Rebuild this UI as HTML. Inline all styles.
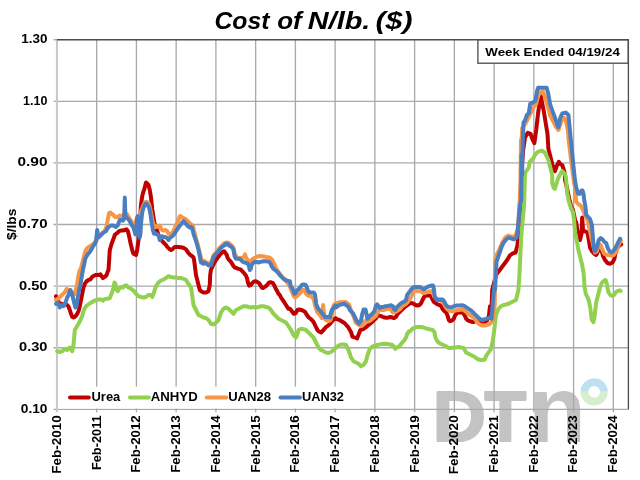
<!DOCTYPE html>
<html><head><meta charset="utf-8"><style>
html,body{margin:0;padding:0;background:#fff;}
body{width:640px;height:480px;overflow:hidden;}
svg{display:block;}
text{font-family:"Liberation Sans",Arial,sans-serif;font-weight:bold;fill:#000;}
</style></head><body>
<svg width="640" height="480" viewBox="0 0 640 480">
<rect width="640" height="480" fill="#fff"/>
<g fill="#c5c5c5" font-family="Liberation Sans, sans-serif" font-weight="bold" font-size="69" style="font-weight:bold">
<text transform="translate(432.8,441.0) scale(1.067,1.024)" style="fill:#c3c3c3;stroke:#c3c3c3;stroke-width:2.1px;stroke-linejoin:round">D</text>
<text transform="translate(484.5,441.0) scale(0.99,1.024)" style="fill:#c3c3c3;stroke:#c3c3c3;stroke-width:2.1px;stroke-linejoin:round">T</text>
<text transform="translate(527.9,442.1) scale(1.375,1.375)" style="fill:#c3c3c3">n</text>
</g>
<g stroke="#a9a9a9" stroke-width="1.33"><line x1="96.67" y1="39.73" x2="96.67" y2="412.33"/><line x1="136.42" y1="39.73" x2="136.42" y2="412.33"/><line x1="176.16" y1="39.73" x2="176.16" y2="412.33"/><line x1="215.90" y1="39.73" x2="215.90" y2="412.33"/><line x1="255.65" y1="39.73" x2="255.65" y2="412.33"/><line x1="295.39" y1="39.73" x2="295.39" y2="412.33"/><line x1="335.13" y1="39.73" x2="335.13" y2="412.33"/><line x1="374.87" y1="39.73" x2="374.87" y2="412.33"/><line x1="414.62" y1="39.73" x2="414.62" y2="412.33"/><line x1="454.36" y1="39.73" x2="454.36" y2="412.33"/><line x1="494.10" y1="39.73" x2="494.10" y2="412.33"/><line x1="533.85" y1="39.73" x2="533.85" y2="412.33"/><line x1="573.59" y1="39.73" x2="573.59" y2="412.33"/><line x1="613.33" y1="39.73" x2="613.33" y2="412.33"/><line x1="53.5" y1="101.33" x2="628.5" y2="101.33"/><line x1="53.5" y1="162.93" x2="628.5" y2="162.93"/><line x1="53.5" y1="224.53" x2="628.5" y2="224.53"/><line x1="53.5" y1="286.13" x2="628.5" y2="286.13"/><line x1="53.5" y1="347.73" x2="628.5" y2="347.73"/><line x1="53.5" y1="409.33" x2="628.5" y2="409.33"/></g>
<line x1="53.5" y1="39.73" x2="57" y2="39.73" stroke="#a9a9a9" stroke-width="1.33"/>
<line x1="56.93" y1="39.73" x2="56.93" y2="412.33" stroke="#c8c8c8" stroke-width="2"/>
<path d="M56.93,39.73 L628.4,39.73 L628.4,409.33" fill="none" stroke="#4d4d4d" stroke-width="1.33"/>
<g>
<path d="M580.6,391.8 A13.6,13.6 0 0 1 607.8,391.8 L600,391.8 A5.8,5.8 0 0 0 588.4,391.8 Z" fill="#bde0f3"/>
<path d="M580.6,391.8 A13.6,13.6 0 0 0 607.8,391.8 L600,391.8 A5.8,5.8 0 0 1 588.4,391.8 Z" fill="#d7eecd"/>
</g>
<polyline points="56.0,296.2 57.2,299.4 59.1,302.8 62.2,304.4 64.8,304.0 67.2,305.0 68.5,306.5 69.8,310.0 71.0,313.8 72.2,316.9 73.5,317.5 74.8,316.9 76.0,315.6 77.2,313.8 78.5,311.2 79.8,306.2 81.0,300.0 82.2,293.8 83.5,287.5 84.8,283.8 86.6,281.2 88.5,280.0 90.4,279.4 92.2,276.9 94.1,275.6 96.0,275.0 98.5,275.0 100.4,274.4 101.6,276.2 102.9,278.1 104.8,276.9 106.6,275.0 107.9,271.2 108.5,270.0 109.8,250.0 111.6,243.8 113.5,238.8 114.8,235.0 116.0,233.8 117.9,232.5 119.1,231.2 121.0,230.6 122.9,230.6 124.8,230.0 126.6,229.4 127.9,231.2 129.1,236.2 130.4,242.5 131.6,247.5 132.2,250.0 133.5,253.8 136.0,255.0 137.2,250.0 138.5,240.0 139.8,222.5 141.0,205.0 142.2,196.2 143.5,191.2 144.1,190.0 146.0,182.5 148.5,185.0 149.8,190.0 151.0,197.5 152.2,208.8 154.1,221.2 155.4,227.5 156.0,227.5 158.5,235.0 161.0,240.0 162.2,241.2 163.5,242.5 164.8,243.8 166.0,245.0 167.2,246.9 168.5,248.1 169.8,249.4 171.0,250.0 172.2,249.4 173.5,248.1 174.8,246.9 176.6,246.9 178.5,246.9 180.4,247.2 182.2,247.5 184.1,248.1 186.0,249.4 187.2,251.2 188.5,253.1 190.4,255.0 192.2,256.2 193.5,257.5 194.1,260.0 196.0,275.0 198.5,285.0 199.8,290.0 201.0,291.2 203.5,292.5 206.0,292.5 208.5,291.2 209.8,285.0 210.2,275.0 210.9,270.0 212.8,265.6 215.2,261.2 217.8,257.5 220.2,254.4 222.8,251.9 224.0,251.2 225.2,252.5 227.1,255.6 227.2,256.9 228.5,259.4 230.4,261.2 232.2,263.8 233.5,266.2 234.8,267.5 236.6,268.1 238.5,268.8 240.4,269.4 242.2,271.2 244.1,273.1 246.0,275.6 247.2,278.8 247.9,282.5 249.1,285.6 251.0,285.0 252.2,283.1 253.5,281.9 255.4,281.2 257.2,281.9 259.1,283.1 260.4,285.0 261.6,287.5 262.9,288.1 264.8,286.9 266.6,285.6 267.9,283.8 269.1,282.5 271.0,282.2 272.9,283.1 274.1,285.0 275.4,288.1 277.2,291.2 278.5,293.8 279.8,295.0 281.0,297.5 283.5,301.2 286.0,305.0 288.5,308.8 290.0,308.8 291.9,311.2 293.8,313.8 295.6,313.1 297.5,310.0 299.4,309.4 301.2,310.0 303.1,310.6 305.0,311.9 306.9,315.0 308.8,317.5 310.6,318.8 312.5,320.6 313.8,322.5 315.0,325.0 316.2,327.5 317.5,330.0 318.5,331.2 321.0,332.5 323.5,330.0 324.4,328.8 326.2,326.9 328.1,325.6 330.0,323.8 331.9,321.2 333.8,319.4 335.6,318.1 336.0,318.8 339.8,320.2 344.4,323.0 348.2,327.2 351.0,331.9 352.4,336.6 354.8,337.5 357.1,338.4 358.5,334.7 360.4,330.0 363.2,329.1 366.0,327.2 368.8,324.8 371.6,322.5 374.4,319.7 376.0,318.3 377.2,316.2 379.1,315.6 381.0,316.2 382.9,316.9 384.8,317.5 386.6,317.8 388.5,317.5 390.4,316.9 392.2,317.5 394.1,318.1 396.0,316.9 397.2,314.4 399.1,312.5 401.0,310.6 402.9,308.8 404.8,306.9 406.6,305.6 408.5,304.4 410.0,303.1 411.9,303.1 413.8,303.8 415.6,305.0 417.5,305.6 419.4,305.0 421.2,303.1 422.5,300.0 423.8,297.5 425.6,295.6 427.5,295.6 429.4,295.6 431.2,296.2 432.5,299.4 433.8,301.9 435.6,303.1 437.5,304.4 439.4,305.0 441.2,306.2 442.5,308.8 444.4,311.2 446.2,312.5 447.5,315.6 448.8,320.0 450.0,321.2 451.9,320.6 453.8,318.8 455.0,315.6 456.9,313.1 458.8,312.5 460.6,312.5 462.5,312.5 463.8,313.8 465.0,316.2 466.2,318.8 468.1,320.6 470.0,321.2 471.9,321.9 473.8,321.9 475.6,321.2 477.5,320.6 479.4,321.2 481.9,321.9 485.0,321.9 486.9,320.6 488.1,318.1 489.0,315.0 490.0,306.2 491.5,307.5 492.2,290.0 494.1,282.5 495.9,275.0 498.8,271.2 501.6,267.5 504.4,263.8 507.2,260.0 510.0,255.3 512.8,253.4 515.6,252.5 517.5,245.0 518.4,233.8 519.4,222.5 521.2,175.0 523.1,150.6 525.0,137.5 527.8,132.8 530.6,133.8 532.5,139.4 534.4,143.1 536.2,130.0 538.1,113.1 540.0,100.0 540.9,96.2 541.9,101.9 543.8,111.2 545.6,122.5 547.5,133.8 548.4,148.8 550.3,156.2 552.2,163.8 554.1,169.4 555.0,171.2 556.9,165.6 558.8,161.9 560.1,163.8 561.0,164.5 562.2,165.0 563.5,168.8 564.8,173.8 565.0,180.0 567.0,188.1 569.1,198.3 571.1,206.4 573.1,210.5 575.2,220.6 576.2,222.5 577.5,231.2 580.0,240.0 581.5,233.8 582.2,217.5 583.1,231.2 585.0,231.2 587.5,232.5 588.8,240.0 590.0,247.5 591.9,251.2 594.4,253.8 596.2,255.0 598.1,251.2 600.0,246.2 601.2,248.8 603.1,256.2 605.0,260.0 607.5,263.1 610.0,263.8 612.5,262.5 614.4,258.8 615.6,252.5 617.5,247.5 620.0,245.0 621.2,244.4" fill="none" stroke="#c00000" stroke-width="4" stroke-linejoin="round" stroke-linecap="round"/>
<polyline points="57.2,351.2 59.8,352.0 62.2,351.2 64.8,348.8 67.2,350.0 69.8,347.5 72.2,351.2 73.5,345.0 74.8,330.0 76.6,326.9 78.5,323.8 80.4,320.0 82.2,316.2 83.5,311.2 84.8,308.1 86.6,305.6 88.5,304.4 91.0,302.8 93.5,301.2 96.0,300.2 98.5,299.4 101.0,299.4 102.9,300.6 104.8,299.0 107.2,298.8 109.8,298.1 111.0,295.0 112.2,291.9 113.5,287.5 114.5,282.5 115.4,283.8 116.6,290.0 117.9,291.2 119.1,288.8 121.0,286.9 122.9,287.5 124.8,285.6 126.6,285.6 128.5,287.5 131.0,288.8 133.5,290.6 136.0,293.8 138.5,296.2 141.0,297.0 143.5,297.5 146.0,297.0 148.5,295.0 151.0,295.0 152.2,297.0 153.5,293.8 156.0,286.2 158.5,282.5 161.0,280.5 163.5,279.5 166.0,278.0 168.5,276.2 171.0,277.0 173.5,277.5 176.0,277.5 178.5,278.0 181.0,278.0 183.5,278.8 186.0,280.0 188.5,283.8 191.0,287.5 192.2,295.0 193.5,305.0 196.0,310.0 198.5,315.0 201.0,316.2 203.5,317.5 206.0,318.0 208.5,320.0 211.0,323.8 213.5,324.5 216.0,322.5 218.5,320.0 221.0,312.5 223.5,308.8 226.0,307.5 228.5,308.8 231.0,311.2 233.5,313.8 236.0,310.0 238.5,308.8 241.0,307.5 243.5,306.2 246.0,306.2 248.5,307.0 251.0,307.5 253.5,307.0 256.0,307.5 258.5,307.0 261.0,306.2 263.5,306.2 266.0,307.0 268.5,307.5 271.0,310.0 273.5,313.8 276.0,316.2 278.5,318.8 281.0,320.0 283.5,321.2 286.0,322.5 288.5,326.2 291.0,330.0 293.5,335.0 296.0,337.5 297.2,335.0 298.5,330.0 301.0,328.8 303.5,329.2 306.0,330.0 308.5,332.5 311.0,335.0 313.5,337.5 316.0,342.5 318.5,347.5 321.0,350.0 323.5,351.2 326.0,352.5 328.5,353.0 331.0,352.0 333.5,350.0 336.0,347.5 338.5,345.5 341.0,344.5 343.5,344.5 346.0,345.0 348.5,350.0 351.0,357.5 353.5,361.2 356.0,362.5 358.5,363.8 361.0,366.2 363.5,365.0 366.0,361.2 367.2,356.2 368.5,352.5 369.8,348.8 372.2,346.9 374.8,345.6 377.2,345.0 379.8,344.4 382.2,344.0 384.8,343.8 387.2,344.0 389.8,344.4 392.2,345.0 394.1,346.9 395.4,348.8 396.6,347.5 398.5,346.9 400.4,345.0 402.2,342.5 404.1,340.6 406.0,337.5 407.2,333.8 409.1,331.2 410.0,331.2 412.5,328.8 415.0,327.5 417.5,326.9 420.0,326.9 422.5,327.2 425.0,328.1 427.5,328.8 430.0,329.4 432.5,330.0 434.4,331.9 435.0,335.0 435.4,337.5 436.6,340.0 438.5,342.5 441.0,344.0 443.5,345.0 446.0,346.2 448.5,348.0 451.0,348.0 453.5,347.5 456.0,347.5 458.5,347.0 461.0,347.5 463.5,348.0 464.8,350.0 466.0,352.5 468.5,353.8 471.0,355.0 473.5,356.2 476.0,358.0 478.5,359.5 481.0,360.0 483.5,360.0 484.8,359.5 486.0,356.2 488.5,352.5 491.0,348.8 492.2,343.8 493.5,336.2 494.8,325.0 496.0,315.0 498.5,308.8 501.0,306.2 503.5,305.0 506.0,304.5 508.5,303.8 511.0,302.5 513.5,301.2 516.0,300.0 518.4,290.0 519.4,275.0 520.3,256.2 521.2,237.5 522.8,218.8 524.1,205.6 525.0,173.1 528.8,167.5 529.7,161.9 531.6,160.0 533.4,158.1 535.3,154.4 538.1,151.6 541.9,150.6 544.7,152.5 546.6,156.2 548.4,160.0 550.3,167.5 552.2,175.0 552.2,182.5 553.5,187.5 554.8,188.8 556.0,185.0 557.2,181.2 558.5,177.5 559.8,175.0 561.0,172.5 562.2,171.2 563.5,172.5 564.8,173.8 566.0,177.5 567.0,192.2 569.1,202.3 571.1,208.4 573.1,212.5 574.1,220.6 575.2,232.8 577.2,243.0 578.4,250.0 580.3,257.5 582.2,265.0 583.5,272.5 584.1,280.0 584.6,287.5 585.9,294.1 587.8,297.8 589.1,301.6 590.6,310.0 591.6,319.4 593.4,322.2 594.4,317.5 595.3,310.0 596.2,302.5 598.1,295.0 600.0,287.5 601.9,282.8 603.8,280.9 605.6,280.0 606.6,282.8 607.5,287.5 608.4,292.2 610.3,295.0 612.2,295.9 614.1,295.0 615.9,292.2 617.8,290.9 619.7,290.3 620.6,290.9" fill="none" stroke="#92d050" stroke-width="4" stroke-linejoin="round" stroke-linecap="round"/>
<polyline points="56.0,300.0 58.5,298.5 60.4,296.5 62.2,294.8 64.8,292.2 66.6,289.0 68.5,290.0 70.4,291.2 72.2,292.5 74.8,294.4 76.0,288.8 77.2,283.8 78.5,275.0 79.8,270.0 80.8,269.2 82.2,263.3 83.7,257.5 85.2,251.7 86.6,248.8 88.1,247.3 89.5,246.6 89.8,246.2 92.2,245.0 94.8,242.5 97.9,238.1 100.4,235.0 102.2,233.1 104.8,231.2 106.6,226.2 107.9,218.8 109.1,213.1 110.4,212.5 111.6,213.8 113.5,215.0 114.8,216.9 116.0,216.9 117.2,216.9 118.5,216.2 119.8,215.6 121.6,216.2 123.5,215.0 125.4,213.8 127.2,214.4 128.5,216.9 130.4,220.0 132.2,223.1 134.1,226.2 137.2,217.5 138.5,218.8 141.0,211.2 143.5,205.0 145.4,201.9 147.2,201.9 149.1,204.4 151.0,212.5 152.9,222.5 154.8,227.5 156.0,226.2 157.9,226.9 159.8,225.6 161.0,228.8 162.2,230.0 163.5,230.6 165.4,230.0 167.2,231.2 168.5,233.8 170.4,233.8 172.2,233.1 174.8,228.1 176.6,224.4 178.5,220.0 179.8,216.2 181.0,216.2 182.2,217.5 183.5,218.1 185.4,218.8 187.2,220.6 189.1,222.5 191.0,224.4 192.9,225.6 194.1,231.2 195.4,236.2 197.2,242.5 199.1,250.0 201.0,257.5 201.6,260.0 204.0,260.9 206.5,262.5 208.4,263.8 210.9,262.5 212.1,259.4 213.4,255.6 215.2,253.4 217.8,250.3 220.2,247.2 222.8,245.0 223.5,243.8 225.4,242.8 227.2,242.5 229.1,243.1 231.0,245.0 232.9,246.9 234.1,250.0 234.8,253.8 236.0,256.2 237.2,257.5 239.1,258.1 241.0,258.1 242.9,257.5 244.1,257.5 245.0,254.4 246.0,257.5 247.2,259.4 249.1,261.9 250.4,261.2 252.2,259.4 254.1,258.1 256.0,257.2 258.5,256.2 260.4,256.0 262.2,256.2 264.1,256.5 266.0,256.9 268.5,257.2 270.4,258.1 272.2,260.0 273.5,262.5 274.8,265.0 276.0,268.8 277.9,271.2 279.8,273.8 281.6,276.2 283.5,278.1 285.4,280.0 287.2,282.5 289.1,285.0 290.0,286.9 291.2,290.0 292.5,293.1 293.8,296.2 295.0,297.5 296.9,296.2 298.8,294.4 300.6,292.5 302.5,290.0 303.8,290.0 305.0,291.2 306.2,293.8 308.1,295.6 310.0,296.2 311.9,296.9 313.1,298.1 314.4,302.5 315.6,307.5 317.5,312.5 320.0,315.0 321.9,318.1 323.1,305.0 323.8,311.2 325.0,319.4 326.9,320.6 328.8,321.2 330.6,320.0 332.5,312.5 333.8,305.0 335.6,303.5 336.0,303.3 339.8,302.3 345.4,301.9 349.1,304.7 351.0,310.3 353.8,316.9 355.7,322.5 358.5,324.8 361.3,326.2 363.7,324.4 365.1,321.1 367.9,321.6 370.7,320.2 373.5,317.8 376.0,315.9 378.5,310.6 381.0,310.0 383.5,310.0 386.0,309.4 388.5,308.8 390.4,308.8 391.6,310.6 392.9,312.5 394.8,312.5 396.6,311.2 398.5,310.0 400.4,308.8 402.2,306.2 404.1,305.0 406.0,303.8 407.9,301.9 409.1,300.0 410.4,298.1 412.2,295.0 413.1,290.0 415.0,290.6 416.9,291.2 418.8,291.2 420.6,291.2 422.5,292.5 424.4,293.1 426.2,292.5 428.1,291.9 430.0,291.2 431.9,291.2 433.1,293.8 434.4,296.9 436.2,298.1 438.1,298.8 440.0,299.4 441.9,301.2 443.8,303.8 445.6,306.9 447.5,309.4 449.4,310.6 451.2,311.2 453.1,311.2 455.0,310.6 456.9,310.2 458.8,310.0 460.6,309.8 462.5,309.4 464.4,310.6 466.2,311.9 468.1,313.8 470.0,315.0 471.9,316.2 473.8,318.1 475.6,320.0 477.5,322.5 479.4,324.4 481.2,325.0 483.1,325.6 485.0,325.6 486.9,325.0 488.8,324.4 490.0,323.8 492.2,321.2 494.8,305.0 495.0,261.9 496.9,254.4 499.7,248.8 502.5,242.2 505.3,237.5 508.1,235.6 510.9,236.6 513.8,236.6 515.6,235.6 517.5,230.0 517.9,228.8 518.7,216.6 519.3,206.4 520.3,192.2 521.0,140.0 521.2,150.6 522.2,128.1 525.0,124.4 527.8,118.8 530.6,113.1 533.4,107.5 536.2,103.8 538.1,96.2 540.0,92.5 542.8,91.6 544.7,96.2 547.5,105.6 550.0,115.0 552.8,120.6 555.6,126.2 558.4,130.0 560.3,124.4 562.2,118.8 564.1,117.8 565.9,120.6 567.8,130.0 568.8,141.2 570.6,156.2 572.5,171.2 574.4,184.4 575.3,188.1 576.2,201.9 578.1,203.8 580.6,205.6 582.5,208.8 584.0,213.1 585.0,215.0 587.5,220.0 590.0,231.2 591.9,240.0 593.8,247.5 595.0,252.5 596.9,251.2 598.8,243.8 600.6,245.0 602.5,250.0 604.4,253.8 607.5,255.0 611.2,255.6 613.8,255.0 616.2,251.2 618.1,246.2 620.0,241.9 621.0,240.6" fill="none" stroke="#f79646" stroke-width="4" stroke-linejoin="round" stroke-linecap="round"/>
<polyline points="56.0,303.8 57.2,302.5 58.5,303.8 59.8,307.5 61.0,306.2 62.2,305.0 63.5,306.2 64.8,303.8 66.0,301.2 67.2,297.5 68.5,295.0 69.8,291.2 70.4,290.0 71.6,292.5 72.9,297.5 74.1,302.5 75.4,307.5 76.6,305.6 77.9,297.5 79.1,290.0 80.4,285.0 81.6,277.5 82.9,270.0 83.7,266.2 84.4,263.3 85.2,259.0 86.6,256.0 88.1,253.8 89.5,252.4 91.0,250.2 92.5,247.3 93.9,245.1 95.4,242.9 96.0,241.2 97.2,230.0 98.2,237.5 99.8,236.2 101.0,235.0 102.2,233.8 103.5,232.5 106.0,231.2 107.2,228.8 108.5,226.9 111.0,225.6 113.5,225.6 114.8,226.2 116.0,226.9 117.9,225.0 119.8,220.0 121.6,220.0 122.9,220.6 124.1,218.8 124.8,197.5 125.4,215.0 126.0,216.9 127.2,218.1 128.5,219.4 129.8,221.2 131.0,223.8 132.2,225.6 133.5,227.5 134.8,232.5 135.4,234.4 136.0,233.8 137.2,217.5 137.9,216.2 138.5,221.2 139.1,236.2 139.8,237.5 140.4,233.8 141.0,223.8 142.2,212.5 143.5,207.5 145.4,203.8 146.6,203.8 147.9,205.6 149.1,207.5 150.4,213.8 151.6,222.5 152.9,230.0 154.1,233.8 156.0,233.8 157.2,234.4 158.5,235.0 159.8,240.0 161.0,236.9 162.2,236.2 163.5,236.9 164.8,236.9 166.0,237.5 167.2,238.1 168.5,240.0 169.8,238.1 171.0,236.9 172.2,236.2 173.5,235.0 174.8,233.1 176.0,231.2 177.2,229.4 178.5,227.5 179.8,225.6 181.0,224.4 182.2,222.5 183.5,221.2 184.8,222.5 186.0,223.8 187.9,226.2 189.8,227.5 191.0,226.9 192.2,228.1 193.5,233.8 194.8,237.5 196.0,241.2 197.2,245.0 198.5,250.0 199.8,256.2 200.4,260.0 201.0,262.5 203.5,263.8 204.0,262.5 206.5,263.8 209.0,265.6 210.9,265.0 212.1,261.9 213.4,257.5 215.2,255.0 217.8,251.9 220.2,248.8 222.8,246.2 225.2,245.0 225.4,244.0 227.2,243.8 228.5,245.0 230.4,246.2 232.2,247.5 233.5,250.0 234.1,253.8 234.8,256.9 236.0,258.8 237.2,258.8 238.5,258.8 240.4,259.4 241.6,260.6 242.9,261.9 244.8,262.5 246.6,263.1 247.9,263.8 249.1,266.9 249.8,270.0 250.8,268.8 251.6,265.0 252.9,263.1 254.8,261.9 256.6,261.9 258.5,262.5 260.4,261.9 262.2,261.5 264.1,261.2 266.0,261.2 267.9,261.5 269.1,261.9 270.4,263.1 271.6,266.2 272.9,268.1 274.1,269.4 276.0,270.6 277.9,272.5 279.8,275.0 281.6,276.9 283.5,278.8 285.4,280.0 287.2,280.6 289.1,281.2 290.0,281.2 290.6,286.2 291.9,287.5 293.1,290.0 294.4,293.8 295.6,293.1 296.9,290.6 298.8,288.8 300.6,286.9 301.9,285.0 303.8,284.4 305.6,285.0 306.9,287.5 308.1,291.2 310.0,292.5 311.9,292.5 313.8,292.5 315.0,294.4 315.6,298.8 316.2,303.8 317.5,307.5 318.8,309.4 320.6,311.2 322.5,313.8 323.8,315.6 325.0,316.9 326.9,316.9 328.8,316.9 330.0,317.5 330.6,313.8 331.9,310.0 333.8,307.5 335.6,305.6 336.0,307.5 339.8,304.7 344.4,303.8 348.2,306.6 350.1,310.3 352.9,313.1 354.8,316.9 356.6,320.6 359.0,323.4 360.8,321.6 362.2,314.1 363.7,309.4 365.5,309.4 366.5,314.1 367.4,318.8 369.3,316.4 372.1,314.1 374.4,311.2 376.0,305.6 377.2,304.4 378.5,306.2 379.8,308.1 381.6,306.9 383.5,306.9 385.4,306.2 387.2,306.2 389.1,305.6 391.0,305.2 392.9,306.2 394.1,309.4 395.4,310.0 396.6,307.5 398.5,305.6 400.4,303.8 402.2,302.5 404.1,301.9 406.0,300.0 407.2,295.0 408.5,293.1 410.0,291.2 411.2,289.4 413.1,287.5 415.0,286.9 417.5,286.9 420.0,286.9 421.9,288.1 423.8,289.4 425.6,288.1 427.5,286.9 429.4,286.2 431.2,285.6 433.1,285.6 433.8,288.8 434.4,293.8 435.0,297.5 436.2,299.4 438.1,300.0 440.0,300.0 441.9,299.4 443.1,300.0 444.4,301.9 445.6,304.4 446.9,306.2 448.8,306.9 450.6,307.2 452.5,306.9 454.4,306.2 456.2,305.6 458.1,305.6 460.0,305.4 461.9,305.2 463.8,305.6 465.6,306.9 467.5,308.1 469.4,309.4 471.2,310.6 473.1,312.5 475.0,314.4 476.9,316.2 478.8,318.1 480.6,319.4 482.5,320.0 484.4,319.4 486.2,318.8 488.1,318.1 490.0,317.5 491.5,318.8 492.2,310.0 493.5,295.0 494.8,282.5 495.0,290.0 495.9,275.0 496.5,261.9 497.8,258.1 499.7,252.5 501.6,246.9 503.4,243.1 506.2,239.4 509.1,237.5 510.9,238.4 513.8,239.4 516.6,237.5 517.5,231.9 518.4,222.5 519.4,211.2 520.3,203.8 521.2,200.0 521.5,155.0 522.2,175.0 522.4,156.2 522.8,141.2 523.5,122.5 525.0,120.6 526.9,115.0 528.8,113.1 530.2,103.8 532.5,102.8 535.3,100.9 536.2,96.2 537.2,90.6 538.1,87.8 546.6,87.8 548.4,94.4 550.0,103.8 551.9,109.4 554.7,116.9 556.6,122.5 558.4,127.2 560.3,117.8 562.2,113.5 565.9,112.6 568.4,115.0 569.7,128.1 570.6,137.5 571.6,146.9 572.5,156.2 573.4,165.6 574.4,175.0 575.3,182.5 576.2,187.2 578.1,193.8 580.0,193.8 581.5,190.6 582.5,190.6 583.5,193.8 584.4,201.2 585.6,207.5 586.2,215.0 590.0,218.8 591.9,225.0 592.5,232.5 593.1,240.0 593.8,247.5 595.0,251.2 596.9,247.5 598.8,240.0 600.6,238.1 602.5,239.4 604.4,241.9 606.2,243.1 607.5,247.5 609.4,251.2 611.2,252.5 613.1,251.2 615.0,248.8 616.9,245.0 618.8,241.2 620.0,238.8 620.2,238.9" fill="none" stroke="#4a7ec0" stroke-width="4" stroke-linejoin="round" stroke-linecap="round"/>
<rect x="58" y="386.6" width="302" height="21.9" fill="#fff"/>
<line x1="70" y1="397.5" x2="88.8" y2="397.5" stroke="#c00000" stroke-width="4" stroke-linecap="round"/><text x="91.5" y="401.3" font-size="12.7" textLength="28.8" lengthAdjust="spacingAndGlyphs">Urea</text>
<line x1="130" y1="397.5" x2="148.8" y2="397.5" stroke="#92d050" stroke-width="4" stroke-linecap="round"/><text x="150.7" y="401.3" font-size="12.7" textLength="47" lengthAdjust="spacingAndGlyphs">ANHYD</text>
<line x1="206.75" y1="397.5" x2="226.3" y2="397.5" stroke="#f79646" stroke-width="4" stroke-linecap="round"/><text x="228.2" y="401.3" font-size="12.7" textLength="42.8" lengthAdjust="spacingAndGlyphs">UAN28</text>
<line x1="280.5" y1="397.5" x2="300" y2="397.5" stroke="#4a7ec0" stroke-width="4" stroke-linecap="round"/><text x="301.9" y="401.3" font-size="12.7" textLength="42" lengthAdjust="spacingAndGlyphs">UAN32</text>
<rect x="477.9" y="40" width="150.2" height="23.2" fill="#fff" stroke="#4d4d4d" stroke-width="1.33"/>
<text x="485.3" y="56.2" font-size="11.4" textLength="134.5" lengthAdjust="spacingAndGlyphs">Week Ended 04/19/24</text>
<text x="47.5" y="43.13" font-size="12.6" text-anchor="end" textLength="26.2" lengthAdjust="spacingAndGlyphs">1.30</text>
<text x="47.5" y="104.73" font-size="12.6" text-anchor="end" textLength="24.4" lengthAdjust="spacingAndGlyphs">1.10</text>
<text x="47.5" y="166.33" font-size="12.6" text-anchor="end" textLength="30.0" lengthAdjust="spacingAndGlyphs">0.90</text>
<text x="47.5" y="227.93" font-size="12.6" text-anchor="end" textLength="29.2" lengthAdjust="spacingAndGlyphs">0.70</text>
<text x="47.5" y="289.53" font-size="12.6" text-anchor="end" textLength="28.5" lengthAdjust="spacingAndGlyphs">0.50</text>
<text x="47.5" y="351.13" font-size="12.6" text-anchor="end" textLength="28.5" lengthAdjust="spacingAndGlyphs">0.30</text>
<text x="47.5" y="412.73" font-size="12.6" text-anchor="end" textLength="26.7" lengthAdjust="spacingAndGlyphs">0.10</text>
<text transform="translate(15.6,224.3) rotate(-90)" font-size="12.6" text-anchor="middle" textLength="31.5" lengthAdjust="spacingAndGlyphs">$/lbs</text>
<text transform="translate(60.83,415.3) rotate(-90)" font-size="12" text-anchor="end" textLength="58.4" lengthAdjust="spacingAndGlyphs">Feb-2010</text>
<text transform="translate(100.57,415.3) rotate(-90)" font-size="12" text-anchor="end" textLength="54.8" lengthAdjust="spacingAndGlyphs">Feb-2011</text>
<text transform="translate(140.32,415.3) rotate(-90)" font-size="12" text-anchor="end" textLength="57.5" lengthAdjust="spacingAndGlyphs">Feb-2012</text>
<text transform="translate(180.06,415.3) rotate(-90)" font-size="12" text-anchor="end" textLength="57.5" lengthAdjust="spacingAndGlyphs">Feb-2013</text>
<text transform="translate(219.80,415.3) rotate(-90)" font-size="12" text-anchor="end" textLength="57.5" lengthAdjust="spacingAndGlyphs">Feb-2014</text>
<text transform="translate(259.55,415.3) rotate(-90)" font-size="12" text-anchor="end" textLength="57.5" lengthAdjust="spacingAndGlyphs">Feb-2015</text>
<text transform="translate(299.29,415.3) rotate(-90)" font-size="12" text-anchor="end" textLength="57.5" lengthAdjust="spacingAndGlyphs">Feb-2016</text>
<text transform="translate(339.03,415.3) rotate(-90)" font-size="12" text-anchor="end" textLength="57.5" lengthAdjust="spacingAndGlyphs">Feb-2017</text>
<text transform="translate(378.77,415.3) rotate(-90)" font-size="12" text-anchor="end" textLength="57.5" lengthAdjust="spacingAndGlyphs">Feb-2018</text>
<text transform="translate(418.52,415.3) rotate(-90)" font-size="12" text-anchor="end" textLength="57.5" lengthAdjust="spacingAndGlyphs">Feb-2019</text>
<text transform="translate(458.26,415.3) rotate(-90)" font-size="12" text-anchor="end" textLength="59.0" lengthAdjust="spacingAndGlyphs">Feb-2020</text>
<text transform="translate(498.00,415.3) rotate(-90)" font-size="12" text-anchor="end" textLength="57.5" lengthAdjust="spacingAndGlyphs">Feb-2021</text>
<text transform="translate(537.75,415.3) rotate(-90)" font-size="12" text-anchor="end" textLength="57.5" lengthAdjust="spacingAndGlyphs">Feb-2022</text>
<text transform="translate(577.49,415.3) rotate(-90)" font-size="12" text-anchor="end" textLength="57.5" lengthAdjust="spacingAndGlyphs">Feb-2023</text>
<text transform="translate(617.23,415.3) rotate(-90)" font-size="12" text-anchor="end" textLength="57.5" lengthAdjust="spacingAndGlyphs">Feb-2024</text>
<text x="214.5" y="28.5" font-size="23.3" font-style="italic" textLength="55.0" lengthAdjust="spacingAndGlyphs">Cost</text>
<text x="277.2" y="28.5" font-size="23.3" font-style="italic" textLength="24.5" lengthAdjust="spacingAndGlyphs">of</text>
<text x="307.8" y="28.5" font-size="23.3" font-style="italic" textLength="62.5" lengthAdjust="spacingAndGlyphs">N/lb.</text>
<text x="375.5" y="28.5" font-size="23.3" font-style="italic" textLength="37.0" lengthAdjust="spacingAndGlyphs">($)</text>
</svg>
</body></html>
